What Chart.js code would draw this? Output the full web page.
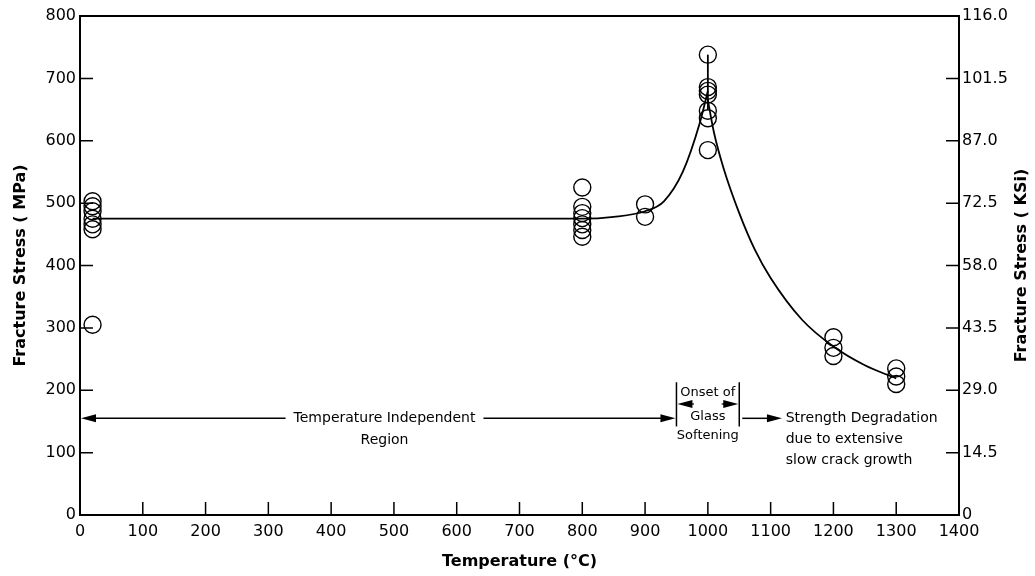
<!DOCTYPE html>
<html lang="en">
<head>
  <meta charset="UTF-8" />
  <title>Fracture Stress vs Temperature</title>
  <script src="https://cdn.jsdelivr.net/npm/chart.js"></script>
  <style>
    body { margin: 0; background: #fff; }
    canvas { display: block; }
  </style>
</head>
<body>
  <canvas id="stressChart" width="1035" height="576"></canvas>

  <script>
    // measured points (temperature in C, fracture stress in MPa)
    const pointTemps  = [20, 20, 20, 20, 20, 20, 20,
                         800, 800, 800, 800, 800, 800, 800,
                         900, 900,
                         1000, 1000, 1000, 1000, 1000, 1000, 1000,
                         1200, 1200, 1200,
                         1300, 1300, 1300];
    const pointStress = [503, 495, 487, 475, 466, 458, 305,
                         525, 494, 484, 476, 466, 457, 446,
                         498, 478,
                         738, 686, 680, 674, 648, 636, 585,
                         285, 268, 255,
                         235, 222, 210];

    // fitted curve, drawn in three pieces
    const riseTemps  = [20, 200, 400, 600, 800, 850, 900, 930, 960, 987, 1000];
    const riseStress = [475, 475, 475, 475, 475, 478, 487, 503, 550, 628, 680];
    const peakTemps  = [1000, 1000];
    const peakStress = [650, 738];
    const fallTemps  = [1000, 1010, 1025, 1050, 1075, 1100, 1150, 1200, 1250, 1300];
    const fallStress = [665, 612, 556, 484, 425, 380, 313, 270, 240, 219];

    const tempTicks = [0, 1400, 100];
    const mpaTicks = [0, 800, 100];
    const ksiTicks = [0, 116, 14.5];

    const toXY = (xs, ys) => xs.map((x, i) => ({ x: x, y: ys[i] }));

    const tickFont = { family: "DejaVu Sans", size: 16 };
    const noteFont = '14px "DejaVu Sans"';
    const boxFont = '13px "DejaVu Sans"';
    const titleFont = 'bold 16px "DejaVu Sans"';

    function arrow(ctx, x1, y, x2) {
      const dir = x2 > x1 ? 1 : -1;
      ctx.beginPath();
      ctx.moveTo(x1, y);
      ctx.lineTo(x2 - dir * 10, y);
      ctx.stroke();
      ctx.beginPath();
      ctx.moveTo(x2, y);
      ctx.lineTo(x2 - dir * 15, y - 4);
      ctx.lineTo(x2 - dir * 15, y + 4);
      ctx.closePath();
      ctx.fill();
    }

    const decorations = {
      id: "decorations",
      afterDatasetsDraw(chart) {
        const ctx = chart.ctx;
        const a = chart.chartArea;
        const sx = chart.scales.x, sy = chart.scales.y, sk = chart.scales.y2;
        const X = v => sx.getPixelForValue(v);
        const Y = v => sy.getPixelForValue(v);
        ctx.save();
        ctx.strokeStyle = "#000";
        ctx.fillStyle = "#000";

        // frame
        ctx.lineWidth = 2;
        ctx.strokeRect(a.left, a.top, a.right - a.left, a.bottom - a.top);

        // inward tick marks
        ctx.lineWidth = 1.5;
        ctx.beginPath();
        sx.ticks.forEach(t => {
          if (t.value <= 0 || t.value >= 1400) return;
          const px = X(t.value);
          ctx.moveTo(px, a.bottom); ctx.lineTo(px, a.bottom - 13);
        });
        sy.ticks.forEach(t => {
          if (t.value <= 0 || t.value >= 800) return;
          const py = Y(t.value);
          ctx.moveTo(a.left, py); ctx.lineTo(a.left + 13, py);
        });
        sk.ticks.forEach(t => {
          if (t.value <= 0 || t.value >= 116) return;
          const py = sk.getPixelForValue(t.value);
          ctx.moveTo(a.right, py); ctx.lineTo(a.right - 13, py);
        });
        ctx.stroke();

        // axis titles
        ctx.font = titleFont;
        ctx.textAlign = "center";
        ctx.textBaseline = "middle";
        ctx.fillText("Temperature (°C)", (a.left + a.right) / 2, 562);
        ctx.save();
        ctx.translate(21, (a.top + a.bottom) / 2);
        ctx.rotate(-Math.PI / 2);
        ctx.fillText("Fracture Stress ( MPa)", 0, 0);
        ctx.restore();
        ctx.save();
        ctx.translate(1022, (a.top + a.bottom) / 2);
        ctx.rotate(-Math.PI / 2);
        ctx.fillText("Fracture Stress ( KSi)", 0, 0);
        ctx.restore();

        // annotations
        ctx.font = noteFont;
        ctx.lineWidth = 1.5;
        const gap = 8;

        const ty = Y(155);
        const label = "Temperature Independent";
        const cx = X(485);
        const half = ctx.measureText(label).width / 2;
        ctx.fillText(label, cx, ty);
        ctx.fillText("Region", cx, Y(120));
        arrow(ctx, cx - half - gap, ty, X(0) + 1);
        arrow(ctx, cx + half + gap, ty, X(950) - 1);

        // onset of glass softening box
        ctx.beginPath();
        ctx.moveTo(X(950), Y(213)); ctx.lineTo(X(950), Y(142));
        ctx.moveTo(X(1050), Y(213)); ctx.lineTo(X(1050), Y(142));
        ctx.stroke();
        ctx.font = boxFont;
        ctx.fillText("Onset of", X(1000), Y(196));
        ctx.lineWidth = 1.2;
        arrow(ctx, X(978), Y(178), X(950) + 1);
        arrow(ctx, X(1022), Y(178), X(1050) - 1);
        ctx.fillText("Glass", X(1000), Y(158));
        ctx.fillText("Softening", X(1000), Y(128));

        ctx.font = noteFont;
        ctx.lineWidth = 1.5;
        arrow(ctx, X(1050) + 3, ty, X(1118));
        ctx.textAlign = "left";
        ctx.fillText("Strength Degradation", X(1124), ty);
        ctx.fillText("due to extensive", X(1124), Y(122));
        ctx.fillText("slow crack growth", X(1124), Y(88));
        ctx.restore();
      }
    };

    const lineStyle = {
      showLine: true,
      pointRadius: 0,
      borderColor: "#000",
      borderWidth: 1.8,
      cubicInterpolationMode: "monotone",
      tension: 0.4
    };

    new Chart(document.getElementById("stressChart"), {
      type: "scatter",
      data: {
        datasets: [
          Object.assign({ data: toXY(riseTemps, riseStress) }, lineStyle),
          Object.assign({ data: toXY(peakTemps, peakStress) }, lineStyle, { tension: 0 }),
          Object.assign({ data: toXY(fallTemps, fallStress) }, lineStyle),
          {
            data: toXY(pointTemps, pointStress),
            pointStyle: "circle",
            pointRadius: 8.5,
            pointHoverRadius: 8.5,
            pointBorderWidth: 1.4,
            pointBorderColor: "#000",
            pointBackgroundColor: "rgba(0,0,0,0)"
          }
        ]
      },
      options: {
        responsive: false,
        animation: false,
        layout: { padding: { top: 16, left: 0, right: 0, bottom: 0 } },
        plugins: { legend: { display: false }, tooltip: { enabled: false } },
        scales: {
          x: {
            type: "linear",
            min: tempTicks[0], max: tempTicks[1],
            ticks: {
              stepSize: tempTicks[2], color: "#000", font: tickFont, padding: 7, maxRotation: 0,
              callback: v => String(v)
            },
            grid: { display: false, drawTicks: false },
            border: { display: false },
            afterFit: s => { s.height = 61; }
          },
          y: {
            position: "left",
            min: mpaTicks[0], max: mpaTicks[1],
            ticks: { stepSize: mpaTicks[2], color: "#000", font: tickFont, padding: 4 },
            grid: { display: false, drawTicks: false },
            border: { display: false },
            afterFit: s => { s.width = 80; }
          },
          y2: {
            position: "right",
            min: ksiTicks[0], max: ksiTicks[1],
            ticks: {
              stepSize: ksiTicks[2], color: "#000", font: tickFont, padding: 3,
              callback: v => v === 0 ? "0" : v.toFixed(1)
            },
            grid: { display: false, drawTicks: false },
            border: { display: false },
            afterFit: s => { s.width = 76; }
          }
        }
      },
      plugins: [decorations]
    });
  </script>
</body>
</html>
